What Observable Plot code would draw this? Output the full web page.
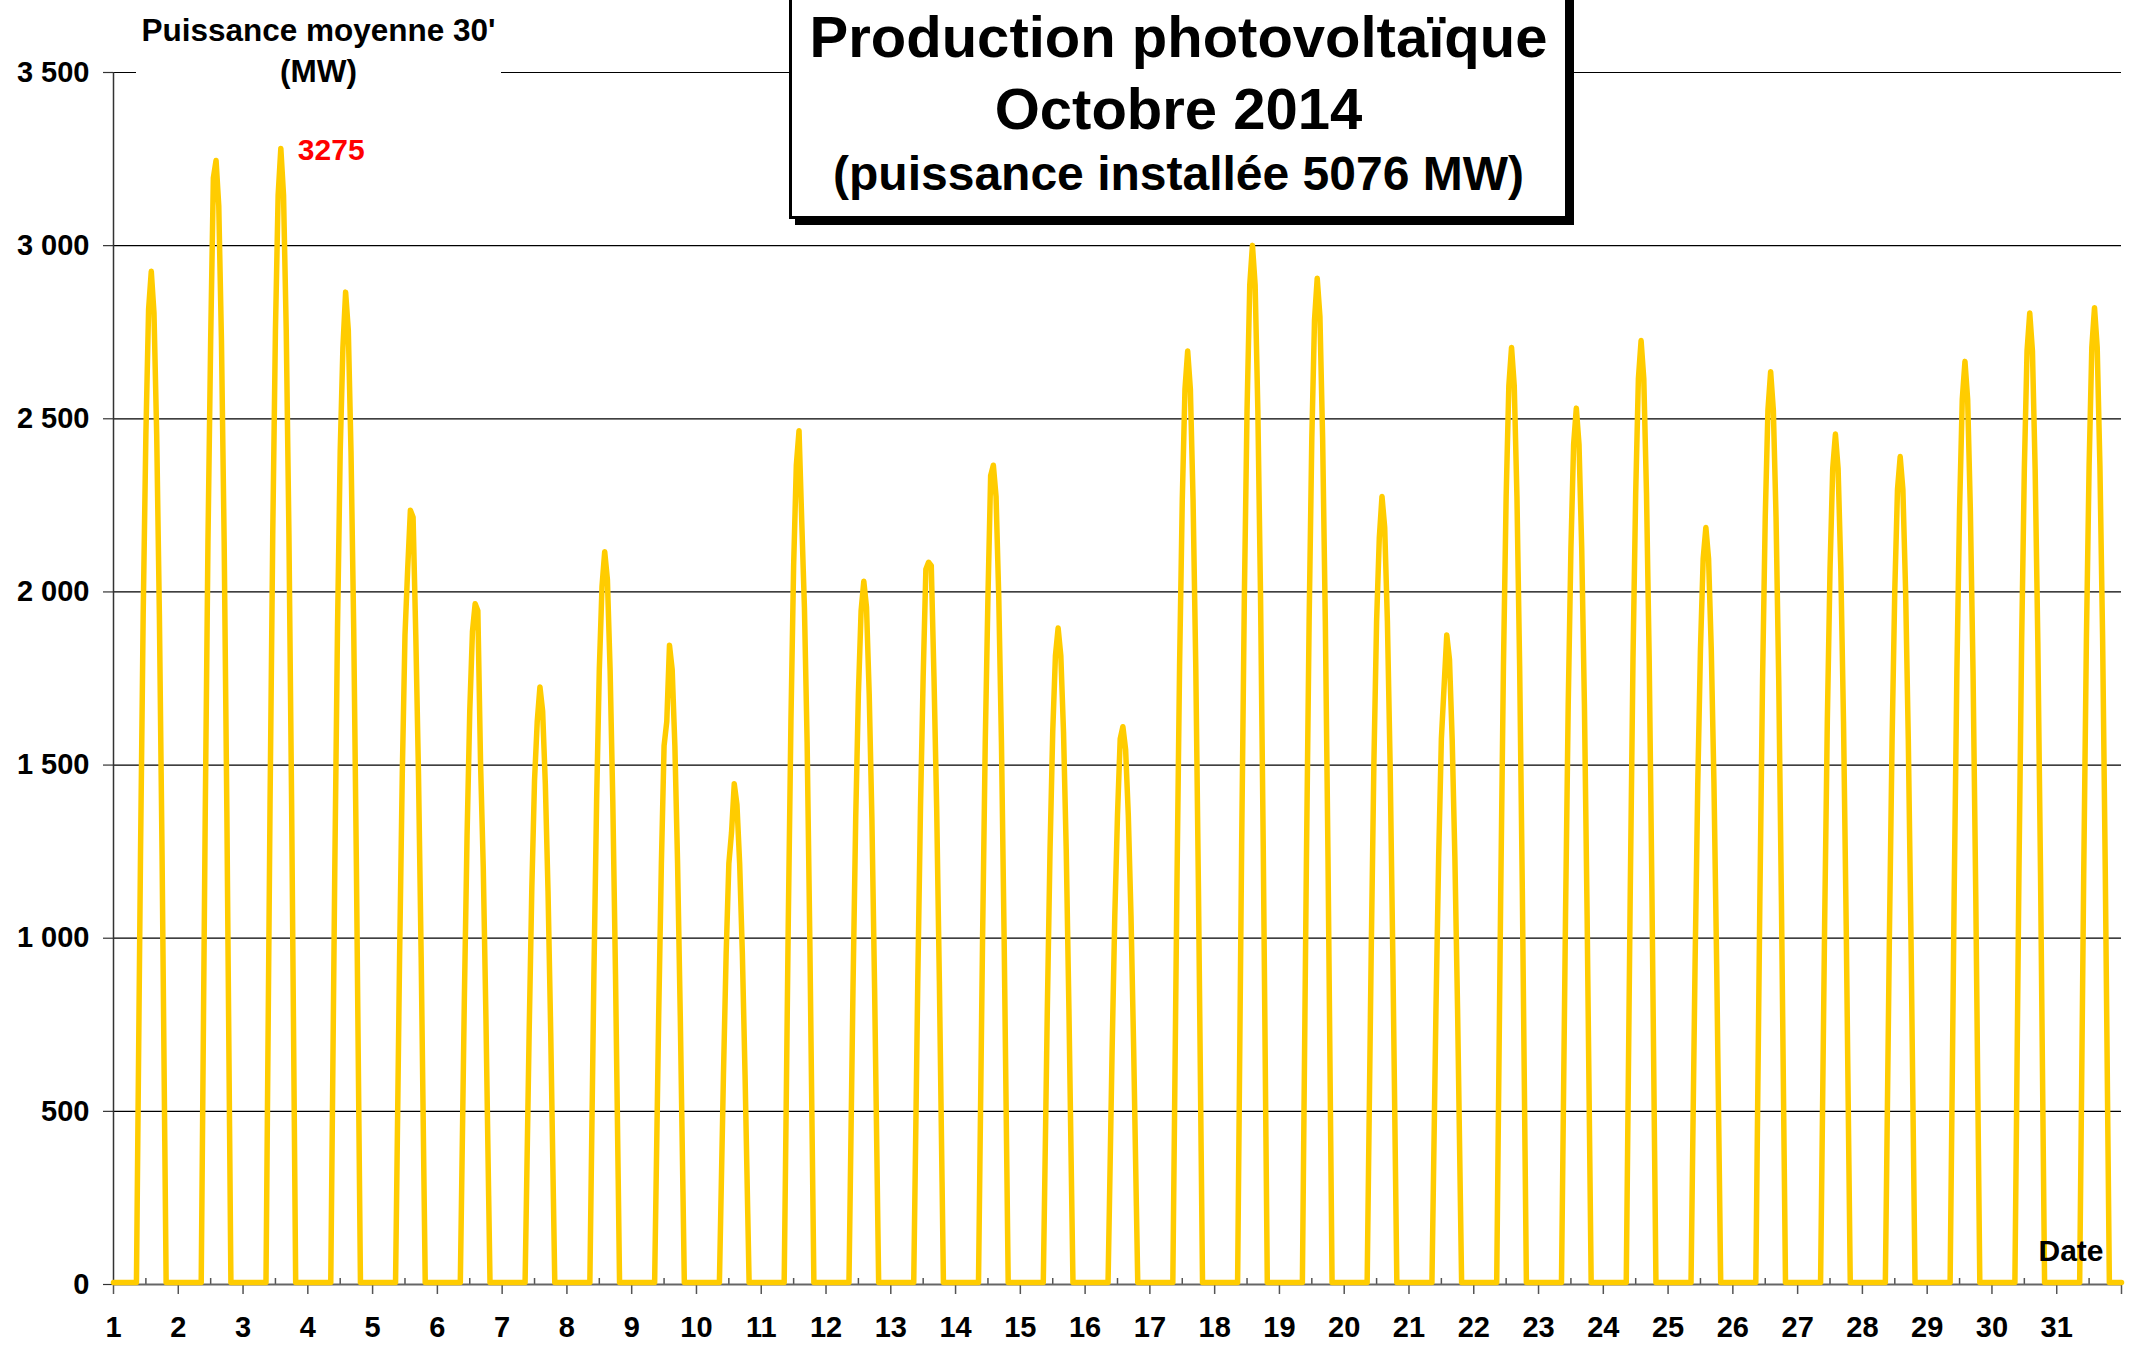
<!DOCTYPE html>
<html>
<head>
<meta charset="utf-8">
<script src="https://cdn.jsdelivr.net/npm/d3@7"></script>
<script src="https://cdn.jsdelivr.net/npm/@observablehq/plot@0.6"></script>
<style>
  html, body { margin: 0; padding: 0; background: #fff; }
  #wrap { position: relative; width: 2134px; height: 1350px; overflow: hidden; font-family: "Liberation Sans", Arial, sans-serif; font-weight: bold; color: #000; }
  #ylabel { position: absolute; left: 136px; top: 0; width: 365px; height: 95px; background: #fff; text-align: center; font-size: 31.5px; line-height: 41px; padding-top: 9.5px; box-sizing: border-box; }
  #title { position: absolute; left: 789px; top: -10px; width: 773px; border: 3px solid #000; box-shadow: 6px 6px 0 #000; background: #fff; text-align: center; padding: 8px 0 13px 0; }
  #title .l1 { font-size: 58px; line-height: 72px; }
  #title .l3 { font-size: 48px; line-height: 58px; }
</style>
</head>
<body>
<div id="wrap"></div>
<script>
// Days of October 2014
const days = [1,2,3,4,5,6,7,8,9,10,11,12,13,14,15,16,17,18,19,20,21,22,23,24,25,26,27,28,29,30,31];
// Hour of day of the readings below, and the hours where production is zero
const hours = [9,10,11,12,13,14,15,16,17,18,19];
const riseHour = 8.5;
const setHour = 19.5;
// Average 30' power (MW) read at each hour, one value per day
const mw09 = [410,450,460,400,310,270,240,300,260,200,340,280,290,330,260,220,380,420,410,320,260,380,350,380,310,370,340,330,370,390,390];
const mw10 = [1230,1360,1380,1200,940,820,720,890,770,600,1030,850,870,990,790,670,1130,1260,1220,950,790,1130,1060,1140,920,1100,1030,1000,1120,1180,1180];
const mw11 = [1930,2140,2160,1890,1470,1290,1140,1390,1210,950,1620,1340,1370,1560,1250,1060,1780,1980,1910,1500,1230,1780,1670,1800,1440,1740,1620,1570,1760,1850,1860];
const mw12 = [2450,2720,2750,2400,1870,1650,1450,1770,1550,1210,2070,1700,1750,1980,1590,1350,2260,2520,2440,1910,1570,2270,2120,2280,1830,2210,2060,2000,2230,2350,2360];
const mw13 = [2810,3190,3140,2700,2060,1880,1620,2010,1620,1300,2360,1940,2060,2330,1810,1570,2580,2880,2780,2150,1720,2590,2420,2610,2090,2520,2350,2290,2550,2690,2700];
const mw14 = [2920,3240,3275,2860,2230,1960,1720,2110,1840,1440,2460,2025,2080,2360,1890,1605,2690,2995,2900,2270,1870,2700,2525,2720,2180,2630,2450,2385,2660,2800,2815];
const mw15 = [2800,3110,3140,2750,2210,1940,1650,2030,1770,1380,2200,1950,2070,2270,1810,1540,2580,2880,2790,2180,1800,2590,2420,2610,2090,2520,2350,2290,2550,2690,2700];
const mw16 = [2450,2720,2750,2400,1870,1500,1440,1770,1550,1210,1950,1700,1750,1980,1590,1350,2260,2520,2440,1910,1570,2270,2120,2280,1830,2210,2060,2000,2230,2350,2360];
const mw17 = [1930,2140,2160,1890,1470,1200,1130,1390,1210,950,1560,1340,1370,1560,1250,1060,1780,1980,1910,1500,1230,1780,1670,1800,1440,1740,1620,1570,1760,1850,1860];
const mw18 = [1230,1360,1380,1200,940,760,720,890,770,600,990,850,870,990,790,670,1130,1260,1220,950,790,1130,1060,1140,920,1100,1030,1000,1120,1180,1180];
const mw19 = [410,450,460,400,310,250,240,300,260,200,330,280,290,330,260,220,380,420,410,320,260,380,350,380,310,370,340,330,370,390,390];
// Axis ticks
const yTicks = [0,500,1000,1500,2000,2500,3000,3500];
const xTicks = [1,2,3,4,5,6,7,8,9,10,11,12,13,14,15,16,17,18,19,20,21,22,23,24,25,26,27,28,29,30,31,32];

const series = [mw09, mw10, mw11, mw12, mw13, mw14, mw15, mw16, mw17, mw18, mw19];
const points = [{t: 1, mw: 0}];
days.forEach((d, i) => {
  points.push({t: d + riseHour / 24, mw: 0});
  hours.forEach((h, j) => points.push({t: d + h / 24, mw: series[j][i]}));
  points.push({t: d + setHour / 24, mw: 0});
});
points.push({t: 32, mw: 0});
const maxPoint = d3.greatest(points, p => p.mw);
const halfDays = days.map(d => d + 0.5);
const fmt = d => d3.format(",")(d).replace(/,/g, " ");

const chart = Plot.plot({
  width: 2134,
  height: 1350,
  marginLeft: 113,
  marginRight: 13,
  marginTop: 72,
  marginBottom: 66,
  style: {fontFamily: "'Liberation Sans', Arial, sans-serif", fontWeight: "bold", color: "#000", background: "#fff"},
  x: {domain: [1, 32]},
  y: {domain: [0, 3500]},
  marks: [
    Plot.ruleY(yTicks.filter(v => v > 0), {stroke: "#000", strokeWidth: 1.2}),
    Plot.axisY({ticks: yTicks, tickSize: 10, tickPadding: 14, tickFormat: fmt, fontSize: 29, fontWeight: "bold", label: null, stroke: "#333", strokeWidth: 1.2}),
    Plot.axisX({ticks: xTicks, tickSize: 10, tickPadding: 22, tickFormat: d => d <= 31 ? String(d) : "", fontSize: 29, fontWeight: "bold", label: null, stroke: "#555", strokeWidth: 1.5}),
    Plot.ruleX(halfDays, {stroke: "#555", strokeWidth: 1.5, insetTop: 1206}),
    Plot.ruleY([0], {stroke: "#666", strokeWidth: 2}),
    Plot.ruleX([1], {stroke: "#333", strokeWidth: 1.5}),
    Plot.line(points, {x: "t", y: "mw", stroke: "#FFCC00", strokeWidth: 5.5, strokeLinejoin: "round", dy: -2}),
    Plot.text([maxPoint], {x: "t", y: "mw", text: d => String(d.mw), dx: 17, textAnchor: "start", fill: "#FF0000", fontSize: 30, fontWeight: "bold"}),
    Plot.text(["Date"], {frameAnchor: "bottom-right", text: d => d, dx: -18, dy: -33, textAnchor: "end", lineAnchor: "middle", fontSize: 30, fontWeight: "bold", fill: "#000"})
  ]
});

const wrap = document.getElementById("wrap");
wrap.appendChild(chart);
chart.style.position = "absolute";
chart.style.left = "0";
chart.style.top = "0";

const yl = document.createElement("div");
yl.id = "ylabel";
yl.innerHTML = "Puissance moyenne 30'<br>(MW)";
wrap.appendChild(yl);

const tt = document.createElement("div");
tt.id = "title";
tt.innerHTML = '<div class="l1">Production photovoltaïque</div><div class="l1">Octobre 2014</div><div class="l3">(puissance installée 5076 MW)</div>';
wrap.appendChild(tt);
</script>
</body>
</html>
